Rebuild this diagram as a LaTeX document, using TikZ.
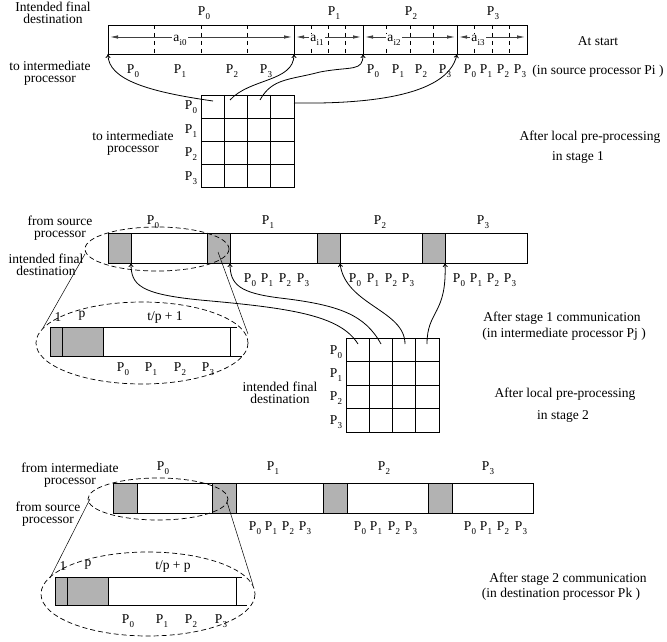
\documentclass[tikz,border=0pt]{standalone}
\usepackage{fontspec}
\setmainfont{Liberation Serif}
\usetikzlibrary{arrows.meta}
\newcommand\Pp[1]{P\kern0.2pt\raisebox{-0.65ex}{\fontsize{9}{9}\selectfont #1}}
\newcommand\Aa[1]{a\kern0.2pt\raisebox{-0.65ex}{\fontsize{9}{9}\selectfont #1}}
\begin{document}
\begin{tikzpicture}[x=1pt,y=-1pt,
  txt/.style={font=\fontsize{13.5}{12}\selectfont, align=center, inner sep=0pt},
  plab/.style={font=\fontsize{13.5}{12}\selectfont, inner sep=0pt},
  barbox/.style={draw, line width=0.8pt},
  greyblk/.style={draw, fill=gray!60, line width=0.8pt},
  conn/.style={line width=0.8pt, -{To[length=4pt,width=5pt]}},
  dimarrow/.style={line width=0.8pt, draw=gray!50!black, {Latex[length=8pt,width=3.5pt]}-{Latex[length=8pt,width=3.5pt]}},
  qdash/.style={dash pattern=on 4pt off 4pt, line width=0.7pt},
  ell/.style={draw, dash pattern=on 5pt off 3pt, line width=0.7pt},
  mag/.style={line width=0.5pt},
  thinl/.style={line width=0.8pt}
]
\useasboundingbox (0,0) rectangle (667,642);

% ================= TOP: at start =================
\draw[barbox] (108,25) rectangle (527,54);
\foreach \x in {294,363,457} \draw[thinl] (\x,25) -- (\x,54);
\foreach \x in {154.5,201,247.5,311.25,328.5,345.75,386.5,410,433.5,474.5,492,509.5}
  \draw[qdash] (\x,25) -- (\x,54);
\coordinate (d0a) at (110,37); \coordinate (d0b) at (292,37);
\coordinate (d1a) at (296,37); \coordinate (d1b) at (361,37);
\coordinate (d2a) at (365,37); \coordinate (d2b) at (455,37);
\coordinate (d3a) at (459,37); \coordinate (d3b) at (525,37);
\draw[dimarrow] (d0a) -- (d0b);
\draw[dimarrow] (d1a) -- (d1b);
\draw[dimarrow] (d2a) -- (d2b);
\draw[dimarrow] (d3a) -- (d3b);
\node[plab, fill=white, inner sep=1pt] (ai0) at (180,40) {\Aa{i0}};
\node[plab, fill=white, inner sep=1pt] (ai1) at (317,40) {\Aa{i1}};
\node[plab, fill=white, inner sep=1pt] (ai2) at (394,40) {\Aa{i2}};
\node[plab, fill=white, inner sep=1pt] (ai3) at (478,40) {\Aa{i3}};

\node[plab] (tp0) at (204,13) {\Pp{0}};
\node[plab] (tp1) at (334,13) {\Pp{1}};
\node[plab] (tp2) at (411,13) {\Pp{2}};
\node[plab] (tp3) at (493,13) {\Pp{3}};

\foreach \x/\i [count=\k] in {133/0,180/1,232/2,266/3,373/0,398/1,421/2,445/3,470/0,486/1,503/2,520/3}
  \node[plab] (tb\k) at (\x,71) {\Pp{\i}};

\node[txt] (lab1) at (53,13) {Intended final\\destination};
\node[txt] (lab2) at (50,73) {to intermediate\\processor};
\node[txt] (lab3) at (598,41) {At start};
\node[txt] (lab4) at (598,71) {(in source processor Pi )};

% grid 1
\draw[thinl] (201,95) rectangle (294,187);
\foreach \x in {224.25,247.5,270.75} \draw[thinl] (\x,95) -- (\x,187);
\foreach \y in {118,141,164} \draw[thinl] (201,\y) -- (294,\y);
\foreach \y/\i in {107/0,131/1,154/2,178/3}
  \node[plab] (ga\i) at (191,\y) {\Pp{\i}};
\node[txt] (lab5) at (133,143) {to intermediate\\processor};
\node[txt] (lab6) at (590,137) {After local pre-processing};
\node[txt] (lab7) at (578,157) {in stage 1};

\coordinate (g1a) at (213,101);
\coordinate (g1b) at (230,100);
\coordinate (g1c) at (260,100);
\coordinate (g1d) at (294,103);
\coordinate (t0) at (108,54);
\coordinate (t1) at (294,54);
\coordinate (t2) at (363,54);
\coordinate (t3) at (457,54);
\draw[conn] (g1a) .. controls (150,92) and (108,80) .. (t0);
\draw[conn] (g1b) .. controls (250,78) and (294,82) .. (t1);
\draw[conn] (g1c) .. controls (272,78) and (290,80) .. (320,72) .. controls (352,66) and (363,72) .. (t2);
\draw[conn] (g1d) .. controls (360,104) and (448,98) .. (t3);

% ================= MIDDLE: stage 1 =================
\draw[barbox] (108,233) rectangle (527,263);
\foreach \a/\b in {108/131,207/230,317/340,422/445}
  \draw[greyblk] (\a,233) rectangle (\b,263);
\node[plab] (mp0) at (153,222) {\Pp{0}};
\node[plab] (mp1) at (268,222) {\Pp{1}};
\node[plab] (mp2) at (380,222) {\Pp{2}};
\node[plab] (mp3) at (483,222) {\Pp{3}};
\foreach \x/\i [count=\k] in {250/0,267/1,285/2,303/3,355/0,373/1,391/2,408/3,459/0,476/1,493/2,510/3}
  \node[plab] (mb\k) at (\x,280) {\Pp{\i}};
\node[txt] (lab8) at (60,228) {from source\\processor};
\node[txt] (lab9) at (46,265) {intended final\\destination};

\draw[ell] (157,249) ellipse [x radius=72, y radius=22];
\coordinate (e1l) at (85,254); \coordinate (E1l) at (43,328);
\coordinate (e1r) at (218,252); \coordinate (E1r) at (248,334);
\draw[mag] (e1l) -- (E1l);
\draw[mag] (e1r) -- (E1r);
\draw[ell] (142,343) ellipse [x radius=106, y radius=41];
% enlarged bar 1
\draw[greyblk] (50,327) rectangle (103,356);
\draw[thinl] (62,327) -- (62,356);
\draw[thinl] (103,327) -- (237,327);
\draw[thinl] (103,356) -- (242,356);
\draw[thinl] (230,327) -- (230,356);
\node[plab] (z1a) at (58,317) {1};
\node[plab] (z1b) at (82,316) {p};
\node[plab] (z1c) at (165,317) {t/p + 1};
\foreach \x/\i in {123/0,151/1,180/2,208/3}
  \node[plab] (zb\i) at (\x,369) {\Pp{\i}};

% grid 2
\draw[thinl] (346,338) rectangle (439,432);
\foreach \x in {369.25,392.5,415.75} \draw[thinl] (\x,338) -- (\x,432);
\foreach \y in {361.5,385,408.5} \draw[thinl] (346,\y) -- (439,\y);
\foreach \y/\i in {352/0,375/1,398/2,422/3}
  \node[plab] (gb\i) at (336,\y) {\Pp{\i}};
\node[txt] (lab10) at (280,393) {intended final\\destination};
\node[txt] (lab11) at (562,318) {After stage 1 communication};
\node[txt] (lab12) at (564,334) {(in intermediate processor Pj )};
\node[txt] (lab13) at (565,394) {After local pre-processing};
\node[txt] (lab14) at (563,416) {in stage 2};

\coordinate (g2a) at (358,344);
\coordinate (g2b) at (381,344);
\coordinate (g2c) at (405,344);
\coordinate (g2d) at (427,344);
\coordinate (m0) at (131,263);
\coordinate (m1) at (230,263);
\coordinate (m2) at (340,263);
\coordinate (m3) at (445,263);
\draw[conn] (g2a) .. controls (340,315) and (290,308) .. (200,300) .. controls (140,294) and (131,285) .. (m0);
\draw[conn] (g2b) .. controls (365,315) and (340,305) .. (280,298) .. controls (240,293) and (230,285) .. (m1);
\draw[conn] (g2c) .. controls (405,310) and (345,305) .. (m2);
\draw[conn] (g2d) .. controls (427,310) and (447,315) .. (m3);

% ================= BOTTOM: stage 2 =================
\draw[barbox] (113,483) rectangle (533,513);
\foreach \a/\b in {113/137,212/236,323/347,428/452}
  \draw[greyblk] (\a,483) rectangle (\b,513);
\node[plab] (bp0) at (163,468) {\Pp{0}};
\node[plab] (bp1) at (273,468) {\Pp{1}};
\node[plab] (bp2) at (384,468) {\Pp{2}};
\node[plab] (bp3) at (488,468) {\Pp{3}};
\foreach \x/\i [count=\k] in {255/0,271/1,288/2,305/3,360/0,376/1,394/2,411/3,470/0,486/1,503/2,521/3}
  \node[plab] (bb\k) at (\x,528) {\Pp{\i}};
\node[txt] (lab15) at (70,475) {from intermediate\\processor};
\node[txt] (lab16) at (48,514) {from source\\processor};

\draw[ell] (158,499) ellipse [x radius=70, y radius=21];
\coordinate (e2l) at (90,499); \coordinate (E2l) at (50,578);
\coordinate (e2r) at (227,502); \coordinate (E2r) at (253,585);
\draw[mag] (e2l) -- (E2l);
\draw[mag] (e2r) -- (E2r);
\draw[ell] (148,594) ellipse [x radius=107, y radius=42];
% enlarged bar 2
\draw[greyblk] (55,577) rectangle (108,605);
\draw[thinl] (67,577) -- (67,605);
\draw[thinl] (108,577) -- (242,577);
\draw[thinl] (108,605) -- (247,605);
\draw[thinl] (236,577) -- (236,605);
\node[plab] (z2a) at (63,566) {1};
\node[plab] (z2b) at (88,565) {p};
\node[plab] (z2c) at (173,566) {t/p + p};
\foreach \x/\i in {128/0,162/1,191/2,221/3}
  \node[plab] (zc\i) at (\x,621) {\Pp{\i}};

\node[txt] (lab17) at (568,579) {After stage 2 communication};
\node[txt] (lab18) at (561,594) {(in destination processor Pk )};
\end{tikzpicture}
\end{document}
